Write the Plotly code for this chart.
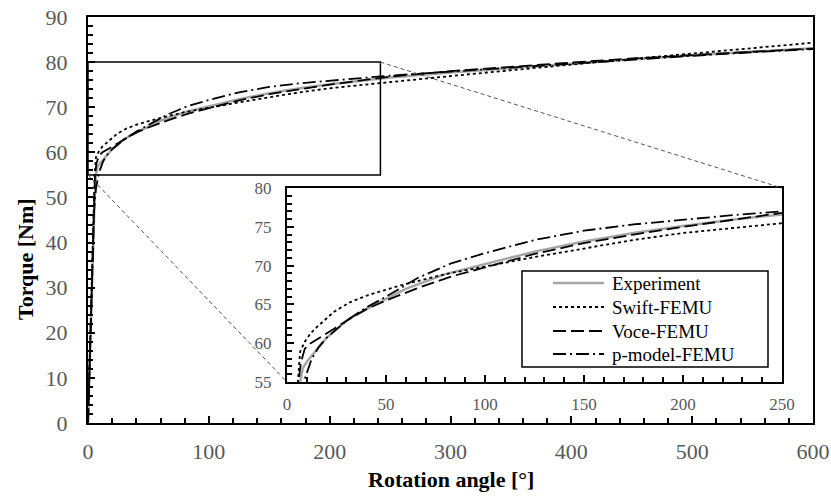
import plotly.graph_objects as go

# ---- data ----
exp_x = [0, 2, 4, 5.5, 6.6, 8, 10, 12, 15, 20, 30, 40, 50, 60, 80, 100, 125, 150, 175, 200, 225, 250,
         300, 350, 400, 450, 500, 550, 600]
exp_y = [0, 20, 40, 50, 55, 56.8, 57.6, 58.2, 59.1, 60.7, 62.9, 64.4, 65.7, 67.0, 68.9, 70.2, 71.8, 73.1,
         74.2, 75.1, 75.9, 76.6, 77.7, 78.7, 79.6, 80.6, 81.5, 82.3, 83.1]

swift_x = [0, 2, 4, 5, 5.5, 6.6, 9, 12, 16, 24, 32, 41, 58, 80, 100, 125, 150, 175, 200, 225, 250,
           300, 350, 400, 450, 500, 550, 600]
swift_y = [0, 20, 40, 50, 55, 58.9, 60.2, 61.3, 62.3, 64.1, 65.3, 66.2, 67.5, 68.9, 69.9, 71.1, 72.2,
           73.3, 74.2, 74.9, 75.6, 76.9, 78.2, 79.5, 80.7, 81.9, 83.1, 84.3]

voce_x = [0, 2, 4, 5, 5.8, 7, 9, 12, 16, 24, 32, 41, 50, 66, 83, 100, 125, 150, 175, 200, 225, 250,
          300, 350, 400, 450, 500, 550, 600]
voce_y = [0, 20, 40, 50, 55, 57.5, 59.3, 60.0, 60.6, 61.9, 63.2, 64.5, 65.5, 67.1, 68.6, 69.8, 71.5,
          72.9, 74.0, 75.0, 75.9, 76.8, 78.0, 79.0, 79.9, 80.8, 81.6, 82.3, 83.0]

pmod_x = [0, 2, 4, 5, 6.6, 8, 9.1, 12.5, 16, 20, 30, 40, 50, 66, 83, 100, 125, 150, 175, 200, 225, 250,
          300, 350, 400, 450, 500, 550, 600]
pmod_y = [0, 18, 38, 47, 52, 54.5, 55.5, 58.0, 59.5, 60.7, 62.9, 64.6, 66.0, 68.4, 70.3, 71.6, 73.3,
          74.5, 75.3, 75.9, 76.5, 77.0, 77.9, 78.8, 79.7, 80.6, 81.4, 82.2, 82.9]

names = ["Experiment", "Swift-FEMU", "Voce-FEMU", "p-model-FEMU"]

main_x_ticks = [0, 100, 200, 300, 400, 500, 600]
main_y_ticks = [0, 10, 20, 30, 40, 50, 60, 70, 80, 90]
inset_x_ticks = [0, 50, 100, 150, 200, 250]
inset_y_ticks = [55, 60, 65, 70, 75, 80]

# zoom window
ZX0, ZX1, ZY0, ZY1 = 0, 242, 55, 80
MAIN_XR, MAIN_YR = [0, 600], [0, 90]
INSET_XR, INSET_YR = [0, 250], [55, 80]

# ---- styling ----
SERIF = "Liberation Serif"
TICKC = "#595959"
styles = [
    dict(color="#a6a6a6", width=2.5, dash="solid"),
    dict(color="black", width=1.8, dash="dot"),
    dict(color="black", width=1.8, dash="13px,5px"),
    dict(color="black", width=1.8, dash="13px,4px,2px,4px"),
]
series = [(exp_x, exp_y), (swift_x, swift_y), (voce_x, voce_y), (pmod_x, pmod_y)]

fig = go.Figure()
for (xs, ys), nm, st in zip(series, names, styles):
    fig.add_trace(go.Scatter(x=xs, y=ys, mode="lines", name=nm, line=st,
                             xaxis="x", yaxis="y", showlegend=False))
for (xs, ys), nm, st in zip(series, names, styles):
    fig.add_trace(go.Scatter(x=xs, y=ys, mode="lines", name=nm, line=st,
                             xaxis="x2", yaxis="y2", showlegend=False))

W, H = 831, 497
ML, MR, MT, MB = 88, 18, 17, 74
PW, PH = W - ML - MR, H - MT - MB

def px_to_paper(px, py):
    return (px - ML) / PW, (H - MB - py) / PH

IN_X = [0.2745, 0.9572]
IN_Y = [0.101, 0.5788]

common = dict(showline=True, linecolor="black", linewidth=2, mirror=True, showgrid=False,
              zeroline=False, ticks="inside", tickcolor="black", tickwidth=1.5, automargin=False)

fig.update_layout(
    width=W, height=H,
    margin=dict(l=ML, r=MR, t=MT, b=MB, autoexpand=False),
    paper_bgcolor="white", plot_bgcolor="white",
    font=dict(family=SERIF, color="black"),
    showlegend=False,
    xaxis=dict(domain=[0, 1], range=MAIN_XR, tickvals=main_x_ticks, ticklen=7,
               minor=dict(dtick=20, ticks="inside", ticklen=5, tickcolor="black", tickwidth=1.5, showgrid=False),
               tickfont=dict(family=SERIF, size=22, color=TICKC), ticklabelstandoff=8, anchor="y", **common),
    yaxis=dict(domain=[0, 1], range=MAIN_YR, tickvals=main_y_ticks, ticklen=7,
               minor=dict(dtick=2, ticks="inside", ticklen=5, tickcolor="black", tickwidth=1.5, showgrid=False),
               tickfont=dict(family=SERIF, size=22, color=TICKC), ticklabelstandoff=14, anchor="x", **common),
    xaxis2=dict(domain=IN_X, range=INSET_XR, tickvals=inset_x_ticks, ticklen=7,
                minor=dict(dtick=10, ticks="inside", ticklen=5, tickcolor="black", tickwidth=1.5, showgrid=False),
                tickfont=dict(family=SERIF, size=17, color=TICKC), ticklabelstandoff=6, anchor="y2", **common),
    yaxis2=dict(domain=IN_Y, range=INSET_YR, tickvals=inset_y_ticks, ticklen=7,
                minor=dict(dtick=1, ticks="inside", ticklen=5, tickcolor="black", tickwidth=1.5, showgrid=False),
                tickfont=dict(family=SERIF, size=17, color=TICKC), ticklabelstandoff=10, anchor="x2", **common),
)

# zoom rectangle in main axes
fig.add_shape(type="rect", xref="x", yref="y", x0=ZX0, x1=ZX1, y0=ZY0, y1=ZY1,
              line=dict(color="black", width=1.5), layer="above")

def main_to_paper(xv, yv):
    return ((xv - MAIN_XR[0]) / (MAIN_XR[1] - MAIN_XR[0]),
            (yv - MAIN_YR[0]) / (MAIN_YR[1] - MAIN_YR[0]))

p1 = main_to_paper(ZX1, ZY1)
p2 = main_to_paper(ZX0, ZY0)
fig.add_shape(type="line", xref="paper", yref="paper", x0=p1[0], y0=p1[1], x1=IN_X[1], y1=IN_Y[1],
              line=dict(color="#555555", width=1, dash="4px,3px"))
fig.add_shape(type="line", xref="paper", yref="paper", x0=p2[0], y0=p2[1], x1=IN_X[0], y1=IN_Y[0],
              line=dict(color="#555555", width=1, dash="4px,3px"))

# legend box (drawn as in the reference: long samples, tight rows)
lb0 = px_to_paper(522, 367)
lb1 = px_to_paper(768, 271)
fig.add_shape(type="rect", xref="paper", yref="paper", x0=lb0[0], y0=lb0[1], x1=lb1[0], y1=lb1[1],
              line=dict(color="black", width=1.5), fillcolor="white", layer="above")
row_y = [283, 307, 331, 354]
for nm, st, ry in zip(names, styles, row_y):
    a = px_to_paper(553, ry)
    b = px_to_paper(604, ry)
    fig.add_shape(type="line", xref="paper", yref="paper", x0=a[0], y0=a[1], x1=b[0], y1=b[1],
                  line=st, layer="above")
    t = px_to_paper(610, ry)
    fig.add_annotation(text=nm, xref="paper", yref="paper", x=t[0], y=t[1], showarrow=False,
                       xanchor="left", yanchor="middle", font=dict(family=SERIF, size=19, color="black"))

fig.add_annotation(text="<b>Torque [Nm]</b>", xref="paper", yref="paper",
                   x=(25 - ML) / PW, y=(H - MB - 259) / PH, textangle=-90, showarrow=False,
                   xanchor="center", yanchor="middle", font=dict(family=SERIF, size=22, color="black"))
fig.add_annotation(text="<b>Rotation angle [°]</b>", xref="paper", yref="paper",
                   x=0.5, y=(H - MB - 480) / PH, showarrow=False,
                   xanchor="center", yanchor="middle", font=dict(family=SERIF, size=22, color="black"))

fig.write_html("out.html", config={"displayModeBar": False},
               post_script="document.body.style.margin='0';document.body.style.overflow='hidden';")
